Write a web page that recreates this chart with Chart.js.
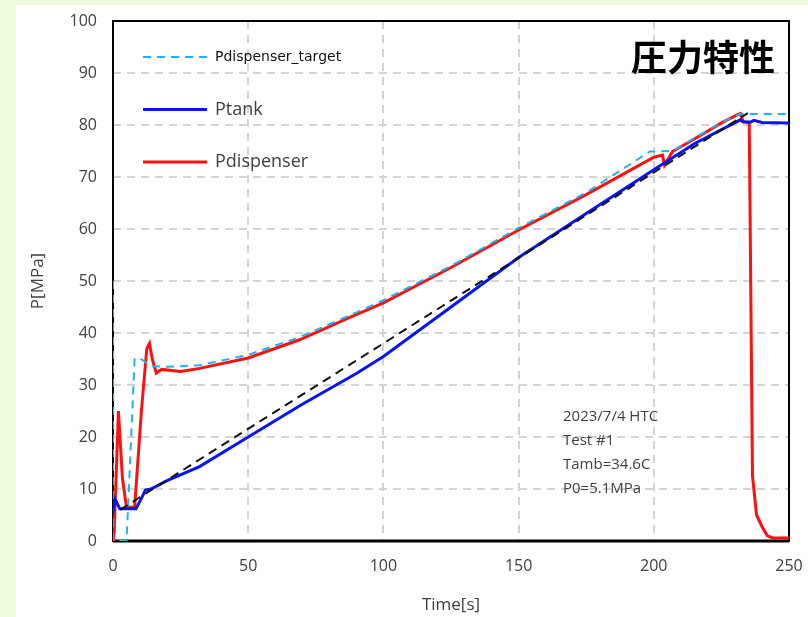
<!DOCTYPE html>
<html>
<head>
<meta charset="utf-8">
<script src="https://cdn.jsdelivr.net/npm/chart.js@4"></script>
<style>
  html, body { margin: 0; padding: 0; background: #ffffff; }
  body { width: 808px; height: 617px; position: relative; overflow: hidden; }
  .edge { position: absolute; background: #effcdc; }
  #edgeLeft { left: 0; top: 0; width: 16px; height: 617px; }
  #edgeTop { left: 0; top: 0; width: 808px; height: 5px; }
  #wrap { position: absolute; left: 0; top: 0; width: 808px; height: 617px; }
</style>
</head>
<body>
<div class="edge" id="edgeLeft"></div>
<div class="edge" id="edgeTop"></div>
<div id="wrap"><canvas id="pressureChart"></canvas></div>
<script>
// Pdispenser_target [s] / [MPa]
const targetTime  = [0, 0.1, 5, 8, 9, 11, 14, 20, 32, 50, 69, 88, 100, 125, 150, 175, 198.5, 206, 207, 215, 225, 231.5, 232, 250];
const targetValue = [50, 0, 0, 35, 35.3, 34.8, 33.6, 33.5, 33.8, 35.8, 39.2, 43.5, 46.3, 52.9, 60.2, 67, 74.9, 75, 75, 77.5, 80.5, 82, 82.1, 82.1];

// Ptank
const tankTime  = [0, 0.8, 2.5, 5, 8.5, 10.5, 12, 14, 20, 32, 50, 70, 90, 100, 125, 150, 175, 200, 215, 232, 233, 236, 237, 240, 250];
const tankValue = [5.4, 8, 6.2, 6.2, 6.2, 8.2, 9.8, 10, 11.6, 14.3, 20, 26.3, 32.2, 35.5, 45, 54.5, 63, 71.4, 76.4, 81, 80.6, 80.6, 80.9, 80.5, 80.4];

// Pdispenser
const dispTime  = [0.3, 1, 2, 3.5, 5, 8, 10.5, 12.5, 13.5, 14.5, 16, 18, 25, 32, 50, 69, 88, 100, 125, 150, 175, 200, 203.2, 204, 206.9, 215, 225, 231, 232, 233, 235.3, 236.5, 238, 240, 242, 244, 250];
const dispValue = [0, 10, 25, 12, 6.5, 6.5, 25, 37, 38, 35, 32.3, 33, 32.6, 33.2, 35.2, 38.7, 43.1, 45.8, 52.6, 59.8, 66.6, 73.8, 74.2, 72.3, 74.9, 77.3, 80.4, 82, 82.2, 80.7, 80.4, 12.5, 5, 2.8, 1, 0.6, 0.6];

// reference ramp (dashed black)
const rampTime  = [2.6, 234.8];
const rampValue = [6.0, 82.3];

const COLORS = {
    target: '#1eb4f0',
    tank: '#0a14f0',
    disp: '#ff1010',
    ramp: '#111111',
    grid: '#d4d4d4',
    text: '#404040'
};

const xTicks = [0, 50, 100, 150, 200, 250];
const yTicks = [0, 10, 20, 30, 40, 50, 60, 70, 80, 90, 100];

const legendItems = [
    { label: 'Pdispenser_target', color: COLORS.target, dash: [8, 6], width: 2, font: '14px "DejaVu Sans"' },
    { label: 'Ptank', color: COLORS.tank, dash: [], width: 3, font: '18px "Open Sans"' },
    { label: 'Pdispenser', color: COLORS.disp, dash: [], width: 3, font: '18px "Open Sans"' }
];

const noteLines = ['2023/7/4 HTC', 'Test #1', 'Tamb=34.6C', 'P0=5.1MPa'];

const toPoints = (xs, ys) => xs.map((x, i) => ({ x: x, y: ys[i] }));

// plot frame, legend, heading and test notes
const decorations = {
    id: 'decorations',
    beforeDatasetsDraw(chart) {
        const { ctx, chartArea: a } = chart;
        ctx.save();
        ctx.strokeStyle = '#000';
        ctx.lineWidth = 2;
        ctx.strokeRect(a.left, a.top, a.right - a.left, a.bottom - a.top);
        ctx.lineWidth = 3;
        ctx.beginPath();
        ctx.moveTo(a.left, a.bottom);
        ctx.lineTo(a.right, a.bottom);
        ctx.stroke();
        ctx.restore();
    },
    afterDraw(chart) {
        const { ctx, chartArea: a } = chart;
        ctx.save();
        legendItems.forEach((item, i) => {
            const y = a.top + 36 + i * 52.5;
            ctx.strokeStyle = item.color;
            ctx.lineWidth = item.width;
            ctx.setLineDash(item.dash);
            ctx.beginPath();
            ctx.moveTo(a.left + 30, y);
            ctx.lineTo(a.left + 94, y);
            ctx.stroke();
            ctx.setLineDash([]);
            ctx.fillStyle = i === 0 ? '#111' : COLORS.text;
            ctx.font = item.font;
            ctx.textBaseline = 'middle';
            ctx.textAlign = 'left';
            ctx.fillText(item.label, a.left + 102, y);
        });

        ctx.fillStyle = '#000';
        ctx.font = 'bold 36px "Noto Sans CJK JP"';
        ctx.textAlign = 'right';
        ctx.textBaseline = 'middle';
        ctx.fillText('圧力特性', a.right - 14, a.top + 36);

        ctx.fillStyle = COLORS.text;
        ctx.font = '15px "Open Sans"';
        ctx.textAlign = 'left';
        noteLines.forEach((line, i) => {
            ctx.fillText(line, 563, 417 + i * 24);
        });
        ctx.restore();
    }
};

const lineDefaults = { pointRadius: 0, tension: 0, fill: false };

function initChart() {
    const ctx = document.getElementById('pressureChart').getContext('2d');
    new Chart(ctx, {
        type: 'line',
        data: {
            datasets: [
                { ...lineDefaults, label: 'ramp', data: toPoints(rampTime, rampValue), borderColor: COLORS.ramp, borderWidth: 2, borderDash: [9, 6] },
                { ...lineDefaults, label: 'Ptank', data: toPoints(tankTime, tankValue), borderColor: COLORS.tank, borderWidth: 3 },
                { ...lineDefaults, label: 'Pdispenser_target', data: toPoints(targetTime, targetValue), borderColor: COLORS.target, borderWidth: 2, borderDash: [8, 6] },
                { ...lineDefaults, label: 'Pdispenser', data: toPoints(dispTime, dispValue), borderColor: COLORS.disp, borderWidth: 3 }
            ]
        },
        options: {
            responsive: true,
            maintainAspectRatio: false,
            animation: false,
            layout: { padding: 0 },
            plugins: { legend: { display: false }, tooltip: { enabled: false } },
            scales: {
                x: {
                    type: 'linear',
                    min: 0, max: 250,
                    afterBuildTicks: s => { s.ticks = xTicks.map(v => ({ value: v })); },
                    afterFit: s => { s.height = 76; s.paddingLeft = 0; s.paddingRight = 19; },
                    grid: { color: COLORS.grid, lineWidth: 2, drawTicks: false },
                    border: { display: false, dash: [8, 6] },
                    ticks: { color: COLORS.text, font: { family: 'Open Sans', size: 16 }, padding: 16, maxRotation: 0 },
                    title: { display: true, text: 'Time[s]', color: COLORS.text, font: { family: 'Open Sans', size: 17 }, padding: { top: 4, bottom: 2 } }
                },
                y: {
                    min: 0, max: 100,
                    afterBuildTicks: s => { s.ticks = yTicks.map(v => ({ value: v })); },
                    afterFit: s => { s.width = 113; s.paddingTop = 21; s.paddingBottom = 0; },
                    grid: { color: COLORS.grid, lineWidth: 2, drawTicks: false },
                    border: { display: false, dash: [8, 6] },
                    ticks: { color: COLORS.text, font: { family: 'Open Sans', size: 16 }, padding: 16 },
                    title: { display: true, text: 'P[MPa]', color: COLORS.text, font: { family: 'Open Sans', size: 17 }, padding: { top: 28, bottom: 0 } }
                }
            }
        },
        plugins: [decorations]
    });
}

document.addEventListener('DOMContentLoaded', initChart);
</script>
</body>
</html>
